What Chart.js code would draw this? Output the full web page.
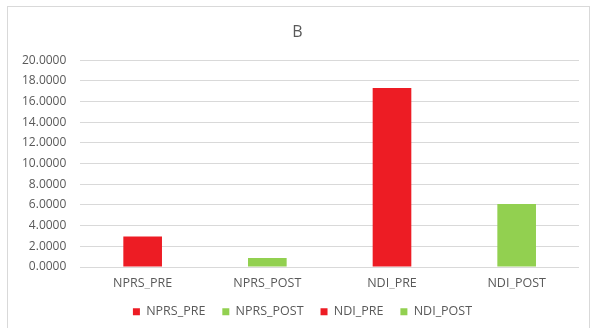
<!DOCTYPE html>
<html>
<head>
<meta charset="utf-8">
<script src="https://cdn.jsdelivr.net/npm/chart.js@4.4.1/dist/chart.umd.min.js"></script>
<style>
  html, body { margin: 0; padding: 0; background: #ffffff; overflow: hidden; }
  #frame {
    position: absolute; left: 7px; top: 6px; width: 583px; height: 340px;
    border: 1px solid #d9d9d9; box-sizing: border-box; background: #fff;
  }
  #wrap { position: absolute; left: 0; top: 0; width: 591px; height: 328px; }
</style>
</head>
<body>
<div id="frame"></div>
<div id="wrap"><canvas id="c" width="591" height="328"></canvas></div>
<script>
// Mean scores before and after treatment
const categories = ['NPRS_PRE', 'NPRS_POST', 'NDI_PRE', 'NDI_POST'];
const values = [2.95, 0.87, 17.3, 6.1];
const barColors = ['#ed1c24', '#92d050', '#ed1c24', '#92d050'];
const yTicks = [0, 2, 4, 6, 8, 10, 12, 14, 16, 18, 20];

const textColor = '#595959';
const fontFamily = "'Open Sans', 'Liberation Sans', sans-serif";

// Centre the title and legend on the framed panel rather than the canvas
const panelCentering = {
  id: 'panelCentering',
  afterLayout(chart) {
    const shift = (box, dx) => { if (box) { box.left += dx; box.right += dx; } };
    shift(chart.titleBlock, 4);
    shift(chart.legend, 9);
  }
};

new Chart(document.getElementById('c'), {
  type: 'bar',
  data: {
    labels: categories,
    datasets: [{
      data: values,
      backgroundColor: barColors,
      borderWidth: 0,
      categoryPercentage: 1,
      barPercentage: 0.31
    }]
  },
  plugins: [panelCentering],
  options: {
    responsive: false,
    animation: false,
    devicePixelRatio: 1,
    layout: { padding: { left: 8, right: 12, top: 0, bottom: 0 } },
    plugins: {
      title: {
        display: true,
        text: 'B',
        color: textColor,
        font: { family: fontFamily, size: 16, weight: 'normal' },
        padding: { top: 23, bottom: 18 }
      },
      legend: {
        display: true,
        position: 'bottom',
        labels: {
          color: textColor,
          font: { family: fontFamily, size: 12.5 },
          boxWidth: 7,
          boxHeight: 7,
          padding: 17,
          generateLabels: () => categories.map((name, i) => ({
            text: name,
            fillStyle: barColors[i],
            strokeStyle: barColors[i],
            lineWidth: 0,
            fontColor: textColor,
            index: i
          }))
        }
      },
      tooltip: { enabled: false }
    },
    scales: {
      x: {
        grid: { display: false, drawTicks: false },
        border: { display: false },
        afterFit: (scale) => { scale.height = 21.5; },
        ticks: {
          color: textColor,
          font: { family: fontFamily, size: 12.5 },
          padding: 9
        }
      },
      y: {
        min: 0,
        max: 20,
        afterBuildTicks: (axis) => { axis.ticks = yTicks.map(v => ({ value: v })); },
        grid: { color: '#d9d9d9', lineWidth: 1, drawTicks: false },
        border: { display: false },
        ticks: {
          color: textColor,
          font: { family: fontFamily, size: 12 },
          padding: 14,
          callback: (v) => Number(v).toFixed(4)
        }
      }
    }
  }
});
</script>
</body>
</html>
